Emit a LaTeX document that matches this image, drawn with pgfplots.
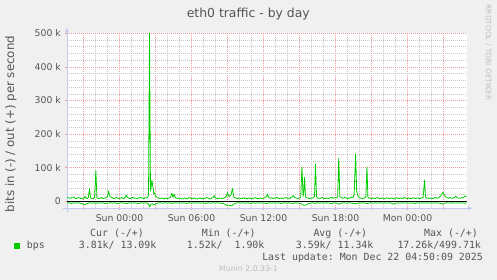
\documentclass[border=0pt]{standalone}
\usepackage{fontspec}
\setmainfont{DejaVu Sans}
\newfontfamily\monof{DejaVu Sans Mono}
\usepackage{pgfplots}
\pgfplotsset{compat=1.18}
\usetikzlibrary{arrows.meta}
\definecolor{bg}{HTML}{F0F0F0}
\definecolor{txt}{HTML}{555555}
\definecolor{mgrid}{HTML}{EE9C9C}
\definecolor{ngrid}{HTML}{C8C8C8}
\definecolor{axc}{HTML}{C4C8F4}
\definecolor{munin}{HTML}{00CC00}
\definecolor{wm}{HTML}{BEBEBE}
\begin{document}
\begin{tikzpicture}[x=1pt,y=1pt]
\useasboundingbox (0,0) rectangle (497,280);
\fill[bg] (0,0) rectangle (497,280);
\begin{axis}[
  at={(67pt,71.7pt)}, anchor=south west, scale only axis,
  width=400pt, height=175pt,
  xmin=-4.375, xmax=28.958, ymin=-20.83, ymax=500,
  axis background/.style={fill=white},
  axis x line=bottom, axis y line=left,
  x axis line style={draw=axc, line width=0.8pt, -{Latex[length=5pt,width=4pt]}, shorten >=-6pt, shorten <=-4pt},
  y axis line style={draw=axc, line width=0.8pt, -{Latex[length=5pt,width=4pt]}, shorten >=-6pt, shorten <=-4pt},
  xtick={-3,0,...,27},
  xticklabels={,Sun 00:00,,Sun 06:00,,Sun 12:00,,Sun 18:00,,Mon 00:00,},
  minor x tick num=2,
  ytick={0,100,...,500},
  yticklabels={0,100 k,200 k,300 k,400 k,500 k},
  minor y tick num=4,
  grid=both,
  major grid style={mgrid, line width=0.55pt, dash pattern=on 1pt off 1pt},
  minor grid style={ngrid, line width=0.55pt, dash pattern=on 1pt off 1pt},
  tick align=outside,
  major tick length=2pt, minor tick length=0pt,
  tick style={mgrid, line width=0.5pt},
  xticklabel style={font=\fontsize{9.3}{10}\selectfont, text=txt, anchor=north, inner sep=0pt, yshift=-4pt},
  yticklabel style={font=\fontsize{9.3}{10}\selectfont, text=txt, anchor=east, inner sep=0pt, xshift=-4pt},
  clip=true,
]
% out (+)
\addplot[munin, line width=0.8pt, no marks, line join=round] coordinates {
(-4.37,12) (-4.25,10) (-4.08,9) (-3.95,12) (-3.83,13) (-3.7,9) (-3.58,8) (-3.45,11) (-3.33,10) (-3.2,8) (-3.08,7) (-2.96,10)
(-2.86,15) (-2.78,9) (-2.7,8) (-2.6,11) (-2.5,37) (-2.42,12) (-2.35,9) (-2.2,8) (-2.08,12) (-1.97,91) (-1.88,10) (-1.78,9)
(-1.7,8) (-1.6,10) (-1.5,11) (-1.4,8) (-1.3,9) (-1.2,10) (-1.1,12) (-1.0,14) (-0.92,31) (-0.82,16) (-0.72,12) (-0.6,11)
(-0.5,8) (-0.4,9) (-0.3,11) (-0.2,10) (-0.1,9) (0.0,8) (0.1,10) (0.2,11) (0.3,8) (0.4,9) (0.48,12) (0.56,19) (0.66,11)
(0.75,10) (0.85,8) (0.95,9) (1.05,12) (1.15,11) (1.25,9) (1.35,10) (1.45,8) (1.55,9) (1.65,11) (1.75,12) (1.85,9)
(1.95,10) (2.05,8) (2.15,11) (2.25,10) (2.35,12) (2.42,20) (2.5,500) (2.58,30) (2.64,44) (2.7,62) (2.8,40) (2.86,22)
(2.92,25) (3.0,16) (3.05,14) (3.15,11) (3.25,10) (3.35,8) (3.45,9) (3.55,10) (3.65,8) (3.75,7) (3.85,10) (3.95,8)
(4.05,9) (4.15,10) (4.25,12) (4.37,24) (4.46,12) (4.55,21) (4.62,13) (4.7,10) (4.8,9) (4.9,8) (5.0,10) (5.1,9)
(5.2,7) (5.3,7) (5.4,10) (5.5,9) (5.6,7) (5.7,8) (5.8,11) (5.9,10) (6.0,8) (6.1,8) (6.2,10) (6.3,9) (6.4,7) (6.5,7)
(6.6,9) (6.7,10) (6.8,8) (6.9,8) (7.0,7) (7.1,9) (7.2,10) (7.3,11) (7.4,9) (7.5,8) (7.6,7) (7.7,10) (7.8,11) (7.9,17)
(7.98,10) (8.05,9) (8.15,8) (8.25,8) (8.35,10) (8.45,10) (8.55,8) (8.65,9) (8.75,11) (8.85,12) (8.93,18) (9.0,26)
(9.08,16) (9.15,14) (9.22,17) (9.3,20) (9.36,30) (9.42,38) (9.5,16) (9.55,12) (9.65,10) (9.75,9) (9.85,8) (9.95,10)
(10.05,9) (10.15,8) (10.25,9) (10.35,11) (10.45,8) (10.55,9) (10.65,7) (10.75,10) (10.85,9) (10.95,8) (11.05,7)
(11.15,9) (11.25,10) (11.35,11) (11.45,8) (11.55,8) (11.65,9) (11.75,10) (11.85,8) (11.95,9) (12.05,10) (12.15,12)
(12.25,14) (12.33,22) (12.42,12) (12.5,10) (12.6,9) (12.7,11) (12.8,8) (12.9,9) (13.0,10) (13.1,12) (13.2,9) (13.3,8)
(13.4,9) (13.5,10) (13.6,8) (13.7,9) (13.8,10) (13.9,11) (14.0,9) (14.1,10) (14.2,8) (14.3,12) (14.4,13) (14.5,17)
(14.6,11) (14.7,10) (14.8,9) (14.9,8) (15.0,10) (15.1,12) (15.2,102) (15.3,15) (15.36,30) (15.42,71) (15.5,14)
(15.55,12) (15.65,10) (15.75,9) (15.85,8) (15.95,10) (16.05,9) (16.15,11) (16.25,14) (16.33,111) (16.42,14)
(16.5,10) (16.6,9) (16.7,8) (16.8,10) (16.9,11) (17.0,9) (17.1,8) (17.2,9) (17.3,10) (17.4,8) (17.5,9) (17.6,11)
(17.7,12) (17.8,9) (17.9,10) (18.0,11) (18.1,10) (18.18,13) (18.27,129) (18.36,14) (18.45,12) (18.55,10) (18.65,9)
(18.75,12) (18.85,10) (18.95,9) (19.05,8) (19.15,11) (19.25,10) (19.35,13) (19.45,11) (19.55,20) (19.68,141)
(19.76,32) (19.84,18) (19.95,12) (20.05,10) (20.15,9) (20.25,8) (20.35,9) (20.45,11) (20.53,14) (20.62,102)
(20.7,12) (20.8,10) (20.9,9) (21.0,8) (21.1,10) (21.2,9) (21.3,8) (21.4,10) (21.5,11) (21.6,9) (21.7,8) (21.8,9)
(21.9,10) (22.0,8) (22.1,7) (22.2,9) (22.3,11) (22.4,9) (22.5,8) (22.6,9) (22.7,10) (22.8,8) (22.9,7) (23.0,9)
(23.1,11) (23.2,9) (23.3,8) (23.4,10) (23.5,9) (23.6,8) (23.7,11) (23.8,10) (23.9,9) (24.0,8) (24.1,10) (24.2,9)
(24.3,8) (24.4,9) (24.5,11) (24.6,9) (24.7,8) (24.8,10) (24.9,9) (25.0,8) (25.1,9) (25.2,10) (25.3,12) (25.42,63)
(25.5,13) (25.58,10) (25.7,9) (25.8,8) (25.9,10) (26.0,9) (26.1,8) (26.2,9) (26.3,11) (26.4,10) (26.5,9) (26.6,11)
(26.7,14) (26.82,19) (26.95,27) (27.05,20) (27.15,14) (27.25,12) (27.35,10) (27.45,9) (27.55,11) (27.65,10)
(27.75,9) (27.85,10) (27.95,12) (28.03,16) (28.12,11) (28.2,10) (28.3,9) (28.4,9) (28.5,11) (28.6,10) (28.7,12)
(28.8,16) (28.9,13)
};
% in (-)
\addplot[munin, line width=0.8pt, no marks, line join=round] coordinates {
(-4.37,-5.5) (-4.2,-4.5) (-4.0,-6.5) (-3.8,-4.5) (-3.6,-5.5) (-3.4,-4.5) (-3.2,-6.5) (-3.0,-8.5) (-2.85,-9.5) (-2.7,-6.5) (-2.5,-4.5)
(-2.3,-5.5) (-2.1,-4.5) (-1.97,-6.5) (-1.8,-4.5) (-1.6,-5.5) (-1.4,-4.5) (-1.2,-6.5) (-1.0,-5.5) (-0.8,-4.5) (-0.6,-5.5) (-0.4,-4.5)
(-0.2,-6.5) (0.0,-5.5) (0.2,-4.5) (0.4,-5.5) (0.6,-6.5) (0.8,-4.5) (1.0,-5.5) (1.2,-4.5) (1.4,-5.5) (1.6,-6.5) (1.8,-4.5) (2.0,-5.5)
(2.2,-4.5) (2.35,-6.5) (2.45,-10) (2.52,-17) (2.62,-9) (2.75,-7.5) (2.88,-11) (3.0,-7.5) (3.2,-5.5) (3.4,-4.5) (3.6,-5.5)
(3.8,-4.5) (4.0,-5.5) (4.2,-4.5) (4.4,-6.5) (4.6,-4.5) (4.8,-5.5) (5.0,-4.5) (5.2,-5.5) (5.4,-4.5) (5.6,-6.5) (5.8,-4.5) (6.0,-5.5)
(6.2,-4.5) (6.4,-5.5) (6.6,-4.5) (6.8,-5.5) (7.0,-4.5) (7.2,-6.5) (7.4,-4.5) (7.6,-5.5) (7.8,-4.5) (8.0,-5.5) (8.2,-4.5) (8.4,-5.5)
(8.6,-6.5) (8.8,-8.5) (8.95,-13) (9.1,-11) (9.25,-14) (9.4,-12) (9.55,-7.5) (9.7,-5.5) (9.9,-4.5) (10.1,-5.5) (10.3,-4.5)
(10.5,-5.5) (10.7,-4.5) (10.9,-6.5) (11.1,-4.5) (11.3,-5.5) (11.5,-4.5) (11.7,-5.5) (11.9,-4.5) (12.1,-5.5) (12.3,-6.5) (12.5,-4.5)
(12.7,-5.5) (12.9,-4.5) (13.1,-5.5) (13.3,-4.5) (13.5,-6.5) (13.7,-4.5) (13.9,-5.5) (14.1,-4.5) (14.3,-5.5) (14.5,-6.5) (14.7,-4.5)
(14.9,-5.5) (15.1,-6.5) (15.25,-10) (15.4,-12) (15.55,-11) (15.7,-7.5) (15.9,-5.5) (16.1,-4.5) (16.3,-6.5) (16.5,-4.5) (16.7,-5.5)
(16.9,-4.5) (17.1,-5.5) (17.3,-4.5) (17.5,-5.5) (17.7,-6.5) (17.9,-4.5) (18.1,-5.5) (18.3,-8.5) (18.5,-5.5) (18.7,-4.5) (18.9,-5.5)
(19.1,-4.5) (19.3,-5.5) (19.5,-6.5) (19.7,-7.5) (19.9,-4.5) (20.1,-5.5) (20.3,-4.5) (20.5,-5.5) (20.7,-6.5) (20.9,-4.5) (21.1,-5.5)
(21.3,-4.5) (21.5,-5.5) (21.7,-4.5) (21.9,-5.5) (22.1,-4.5) (22.3,-5.5) (22.5,-4.5) (22.7,-6.5) (22.85,-8.5) (23.0,-5.5) (23.2,-4.5)
(23.4,-5.5) (23.6,-4.5) (23.8,-5.5) (24.0,-4.5) (24.2,-5.5) (24.4,-4.5) (24.6,-6.5) (24.8,-4.5) (25.0,-5.5) (25.2,-4.5) (25.4,-5.5)
(25.6,-4.5) (25.8,-5.5) (26.0,-4.5) (26.2,-5.5) (26.4,-4.5) (26.6,-5.5) (26.8,-6.5) (26.95,-8.5) (27.1,-5.5) (27.3,-4.5) (27.5,-5.5)
(27.7,-4.5) (27.9,-5.5) (28.1,-4.5) (28.3,-5.5) (28.5,-4.5) (28.7,-5.5) (28.9,-5.5)
};
% zero rule
\addplot[black, line width=1.2pt, no marks] coordinates {(-4.375,0) (28.958,0)};
\end{axis}
% title and labels
\node[font=\fontsize{12.4}{14}\selectfont, text=txt, anchor=base, inner sep=0pt] at (248.3,262.7) {eth0 traffic - by day};
\node[rotate=90, anchor=base, inner sep=0pt, font=\fontsize{11.8}{13}\selectfont, text=txt] at (14,156) {bits in (-) / out (+) per second};
\node[rotate=-90, inner sep=0pt, font=\fontsize{7.4}{8}\selectfont, text=wm] at (488.3,227.5) {RRDTOOL / TOBI OETIKER};
% legend
\begin{scope}[every node/.style={inner sep=0pt, anchor=base west, font=\monof\fontsize{9.9}{11}\selectfont, text=txt}]
\node at (90,43) {Cur\ (-/+)};
\node at (201.7,43) {Min\ (-/+)};
\node at (313.3,43) {Avg\ (-/+)};
\node at (424,43) {Max\ (-/+)};
\fill[munin] (14,31.3) rectangle (20,37.3);
\node at (26.7,31) {bps};
\node at (78.7,31) {3.81k/\ 13.09k};
\node at (186.7,31) {1.52k/\ \ 1.90k};
\node at (295.7,31) {3.59k/\ 11.34k};
\node at (397.3,31) {17.26k/499.71k};
\node[anchor=base east] at (483,19.3) {Last\ update:\ Mon\ Dec\ 22\ 04:50:09\ 2025};
\end{scope}
\node[anchor=base, inner sep=0pt, font=\fontsize{7.8}{9}\selectfont, text=wm] at (248.5,8.5) {Munin 2.0.33-1};
\end{tikzpicture}
\end{document}
